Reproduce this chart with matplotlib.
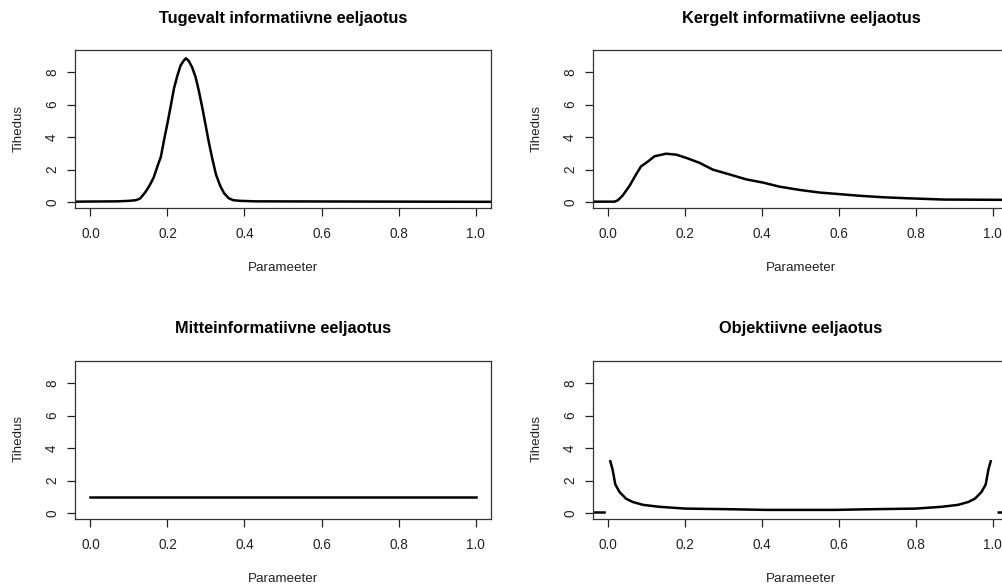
import numpy as np
import matplotlib
matplotlib.use("Agg")
import matplotlib.pyplot as plt

plt.rcParams["font.family"] = ["Liberation Sans", "DejaVu Sans"]

# ---------------------------
# Data
# ---------------------------
titles = ["Tugevalt informatiivne eeljaotus", "Kergelt informatiivne eeljaotus",
          "Mitteinformatiivne eeljaotus", "Objektiivne eeljaotus"]
xlab = "Parameeter"
ylab = "Tihedus"
xticks = [0.0, 0.2, 0.4, 0.6, 0.8, 1.0]
yticks = [0, 2, 4, 6, 8]

strong_x = [-0.04, 0.07, 0.10, 0.118, 0.129, 0.142, 0.153, 0.164, 0.174, 0.183,
            0.191, 0.200, 0.209, 0.217, 0.226, 0.234, 0.242, 0.248, 0.255,
            0.264, 0.273, 0.281, 0.290, 0.299, 0.307, 0.316, 0.326, 0.337,
            0.347, 0.359, 0.371, 0.389, 0.428, 1.04]
strong_y = [0.03, 0.05, 0.08, 0.12, 0.22, 0.59, 1.0, 1.5, 2.2, 2.8,
            3.8, 4.85, 5.97, 7.0, 7.8, 8.4, 8.7, 8.85, 8.7,
            8.3, 7.7, 6.9, 5.87, 4.75, 3.74, 2.72, 1.7, 1.0,
            0.55, 0.24, 0.12, 0.08, 0.05, 0.02]

weak_x = [-0.04, 0.016, 0.025, 0.037, 0.055, 0.072, 0.085, 0.103, 0.12, 0.15,
          0.177, 0.203, 0.237, 0.272, 0.316, 0.359, 0.403, 0.446, 0.498,
          0.55, 0.603, 0.655, 0.716, 0.777, 0.872, 1.04]
weak_y = [0.03, 0.03, 0.12, 0.4, 1.0, 1.7, 2.2, 2.5, 2.82, 2.98,
          2.92, 2.72, 2.42, 2.0, 1.7, 1.4, 1.2, 0.95, 0.75,
          0.59, 0.49, 0.39, 0.3, 0.24, 0.16, 0.14]

flat_x = [0.0, 1.0]
flat_y = [1.0, 1.0]

# objective prior: left stub, curve, right stub (nan = gap)
obj_x = [-0.04, -0.01, np.nan,
         0.005, 0.011, 0.018, 0.029, 0.046, 0.063, 0.09, 0.133, 0.2, 0.32,
         0.41, 0.5, 0.59, 0.68, 0.8, 0.867, 0.91, 0.937, 0.954, 0.971,
         0.982, 0.989, 0.995, np.nan, 1.016, 1.04]
obj_y = [0.04, 0.04, np.nan,
         3.19, 2.68, 1.77, 1.3, 0.89, 0.69, 0.51, 0.39, 0.28, 0.24,
         0.2, 0.2, 0.2, 0.24, 0.28, 0.39, 0.51, 0.69, 0.89, 1.3,
         1.77, 2.68, 3.19, np.nan, 0.04, 0.04]

series = [(strong_x, strong_y), (weak_x, weak_y), (flat_x, flat_y), (obj_x, obj_y)]

# ---------------------------
# Layout (pixels)
# ---------------------------
W, H = 1003, 588
boxes = [(75, 50, 416, 158), (593, 50, 415, 158),
         (75, 361, 416, 158), (593, 361, 415, 158)]

fig = plt.figure(figsize=(W / 100, H / 100), dpi=100)

for (x0, y0, w, h), (xs, ys), title in zip(boxes, series, titles):
    ax = fig.add_axes([x0 / W, 1 - (y0 + h) / H, w / W, h / H])
    ax.plot(xs, ys, color="black", lw=1.8, solid_joinstyle="round")
    ax.set_xlim(-0.04, 1.04)
    ax.set_ylim(-0.36, 9.36)
    ax.set_xticks(xticks)
    ax.set_xticklabels([f"{t:.1f}" for t in xticks])
    ax.set_yticks(yticks)
    ax.set_yticklabels([str(t) for t in yticks], rotation=90, va="center")
    ax.tick_params(direction="out", length=6, width=0.9, labelsize=9.8,
                   colors="#222222")
    ax.tick_params(axis="x", pad=8)
    ax.tick_params(axis="y", pad=5.5)
    for s in ax.spines.values():
        s.set_linewidth(0.9)
        s.set_color("#333333")

    fig.text((x0 + 208) / W, 1 - (y0 - 32) / H, title, ha="center", va="center",
             fontsize=11.8, fontweight="bold")
    fig.text((x0 + 208) / W, 1 - (y0 + 218) / H, xlab, ha="center", va="center",
             fontsize=9.6, color="#222222")
    fig.text((x0 - 56) / W, 1 - (y0 + 78) / H, ylab, ha="center", va="center",
             rotation=90, fontsize=9.6, color="#222222")

fig.savefig("out.png", dpi=100)
